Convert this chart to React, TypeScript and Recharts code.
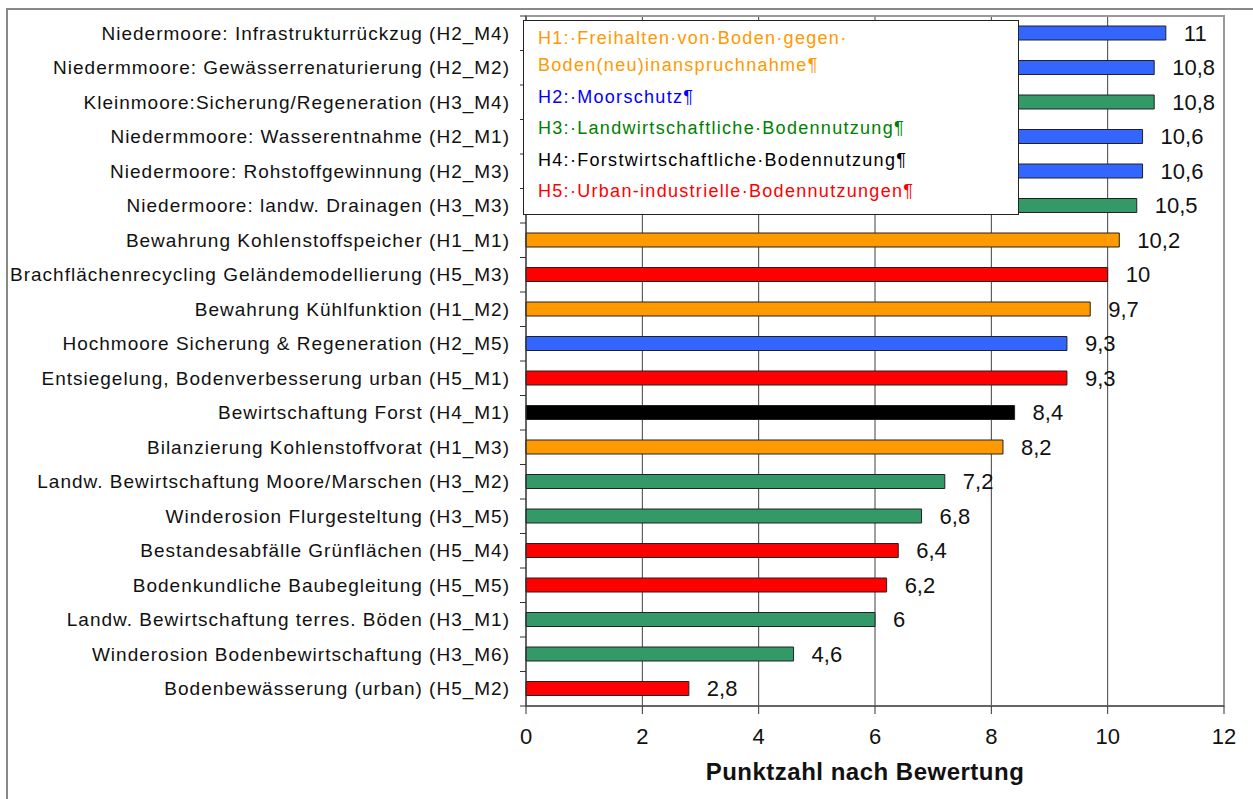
import { Bar, BarChart, CartesianGrid, Cell, LabelList, Legend, ReferenceArea, XAxis, YAxis } from "recharts";

const categories = [
  "Niedermoore: Infrastrukturrückzug (H2_M4)",
  "Niedermmoore: Gewässerrenaturierung (H2_M2)",
  "Kleinmoore:Sicherung/Regeneration (H3_M4)",
  "Niedermmoore: Wasserentnahme (H2_M1)",
  "Niedermoore: Rohstoffgewinnung (H2_M3)",
  "Niedermoore: landw. Drainagen (H3_M3)",
  "Bewahrung Kohlenstoffspeicher (H1_M1)",
  "Brachflächenrecycling Geländemodellierung (H5_M3)",
  "Bewahrung Kühlfunktion (H1_M2)",
  "Hochmoore Sicherung & Regeneration (H2_M5)",
  "Entsiegelung, Bodenverbesserung urban (H5_M1)",
  "Bewirtschaftung Forst (H4_M1)",
  "Bilanzierung Kohlenstoffvorat (H1_M3)",
  "Landw. Bewirtschaftung Moore/Marschen (H3_M2)",
  "Winderosion Flurgesteltung (H3_M5)",
  "Bestandesabfälle Grünflächen (H5_M4)",
  "Bodenkundliche Baubegleitung (H5_M5)",
  "Landw. Bewirtschaftung terres. Böden (H3_M1)",
  "Winderosion Bodenbewirtschaftung (H3_M6)",
  "Bodenbewässerung (urban) (H5_M2)",
];

const scores = [11, 10.8, 10.8, 10.6, 10.6, 10.5, 10.2, 10, 9.7, 9.3, 9.3, 8.4, 8.2, 7.2, 6.8, 6.4, 6.2, 6, 4.6, 2.8];

const groups = ["H2", "H2", "H3", "H2", "H2", "H3", "H1", "H5", "H1", "H2", "H5", "H4", "H1", "H3", "H3", "H5", "H5", "H3", "H3", "H5"];

const xTicks = [0, 2, 4, 6, 8, 10, 12];

const legendLines = [
  ["H1:·Freihalten·von·Boden·gegen·", "Boden(neu)inanspruchnahme¶"],
  ["H2:·Moorschutz¶"],
  ["H3:·Landwirtschaftliche·Bodennutzung¶"],
  ["H4:·Forstwirtschaftliche·Bodennutzung¶"],
  ["H5:·Urban-industrielle·Bodennutzungen¶"],
];
const legendGroups = ["H1", "H2", "H3", "H4", "H5"];

const barColors: Record<string, string> = {
  H1: "#ff9900",
  H2: "#3366ff",
  H3: "#339966",
  H4: "#000000",
  H5: "#ff0000",
};

const textColors: Record<string, string> = {
  H1: "#ff9900",
  H2: "#0000ff",
  H3: "#008000",
  H4: "#000000",
  H5: "#ff0000",
};

const FONT = "'Liberation Sans', Arial, sans-serif";
const TICK_SIZE = 6;
const TICK_MARGIN = 10;
const BAND = 34.5;

const data = categories.map((name, i) => ({ name, score: scores[i], group: groups[i] }));

function CategoryTick(props: any) {
  const { x, y, payload, index } = props;
  const axisX = x + TICK_SIZE + TICK_MARGIN;
  return (
    <g>
      <line x1={axisX - TICK_SIZE} x2={axisX} y1={y - BAND / 2} y2={y - BAND / 2} stroke="#333" />
      {index === categories.length - 1 && (
        <line x1={axisX - TICK_SIZE} x2={axisX} y1={y + BAND / 2} y2={y + BAND / 2} stroke="#333" />
      )}
      <text
        x={x}
        y={y}
        dy="0.35em"
        textAnchor="end"
        fontSize={19}
        letterSpacing={1}
        fill="#111"
        fontFamily={FONT}
      >
        {payload.value}
      </text>
    </g>
  );
}

function LegendBox() {
  return (
    <div
      style={{
        width: 480,
        height: 189,
        border: "1px solid #222",
        background: "#fff",
        boxSizing: "content-box",
        padding: "4px 0 0 14px",
        fontFamily: FONT,
        fontSize: 18,
        letterSpacing: 1.3,
        textAlign: "left",
      }}
    >
      {legendLines.map((lines, i) => (
        <div key={i} style={{ color: textColors[legendGroups[i]], lineHeight: "27px", marginBottom: 4.5 }}>
          {lines.map((l, j) => (
            <div key={j}>{l}</div>
          ))}
        </div>
      ))}
    </div>
  );
}

export default function App() {
  return (
    <div style={{ position: "absolute", left: 0, top: 0, width: 1253, height: 799, background: "#fff" }}>
      <div
        style={{
          position: "absolute",
          left: 6,
          top: 8,
          width: 1260,
          height: 800,
          borderTop: "2px solid #888",
          borderLeft: "2px solid #888",
        }}
      />
      <div style={{ position: "absolute", left: 0, top: 0 }}>
        <BarChart
          width={1253}
          height={799}
          data={data}
          layout="vertical"
          margin={{ top: 16, right: 29, bottom: 33, left: 0 }}
          barSize={14}
        >
          <CartesianGrid horizontal={false} vertical stroke="#404040" />
          <ReferenceArea x1={0} x2={12} fill="none" stroke="#999" strokeWidth={2} ifOverflow="visible" />
          <XAxis
            type="number"
            domain={[0, 12]}
            ticks={xTicks}
            tickSize={8}
            tickMargin={14}
            axisLine={{ stroke: "#333" }}
            tickLine={{ stroke: "#333" }}
            tick={{ fontSize: 22, fill: "#111", fontFamily: FONT }}
            height={60}
            label={{
              value: "Punktzahl nach Bewertung",
              position: "bottom",
              offset: -3,
              dx: -10,
              style: { fontSize: 24, fontWeight: "bold", letterSpacing: 0.5, fill: "#111", fontFamily: FONT },
            }}
          />
          <YAxis
            type="category"
            dataKey="name"
            width={526}
            interval={0}
            tickSize={TICK_SIZE}
            tickMargin={TICK_MARGIN}
            tickLine={false}
            axisLine={{ stroke: "#333" }}
            tick={<CategoryTick />}
          />
          <Legend
            layout="vertical"
            verticalAlign="middle"
            align="center"
            content={<LegendBox />}
            wrapperStyle={{ left: 523, top: 20, width: 496 }}
          />
          <Bar dataKey="score" stroke="#222" strokeWidth={1} isAnimationActive={false}>
            {data.map((d, i) => (
              <Cell key={i} fill={barColors[d.group]} />
            ))}
            <LabelList
              dataKey="score"
              position="right"
              offset={18}
              formatter={(v: any) => String(v).replace(".", ",")}
              style={{ fontSize: 22, fill: "#111", fontFamily: FONT }}
            />
          </Bar>
        </BarChart>
      </div>
    </div>
  );
}
